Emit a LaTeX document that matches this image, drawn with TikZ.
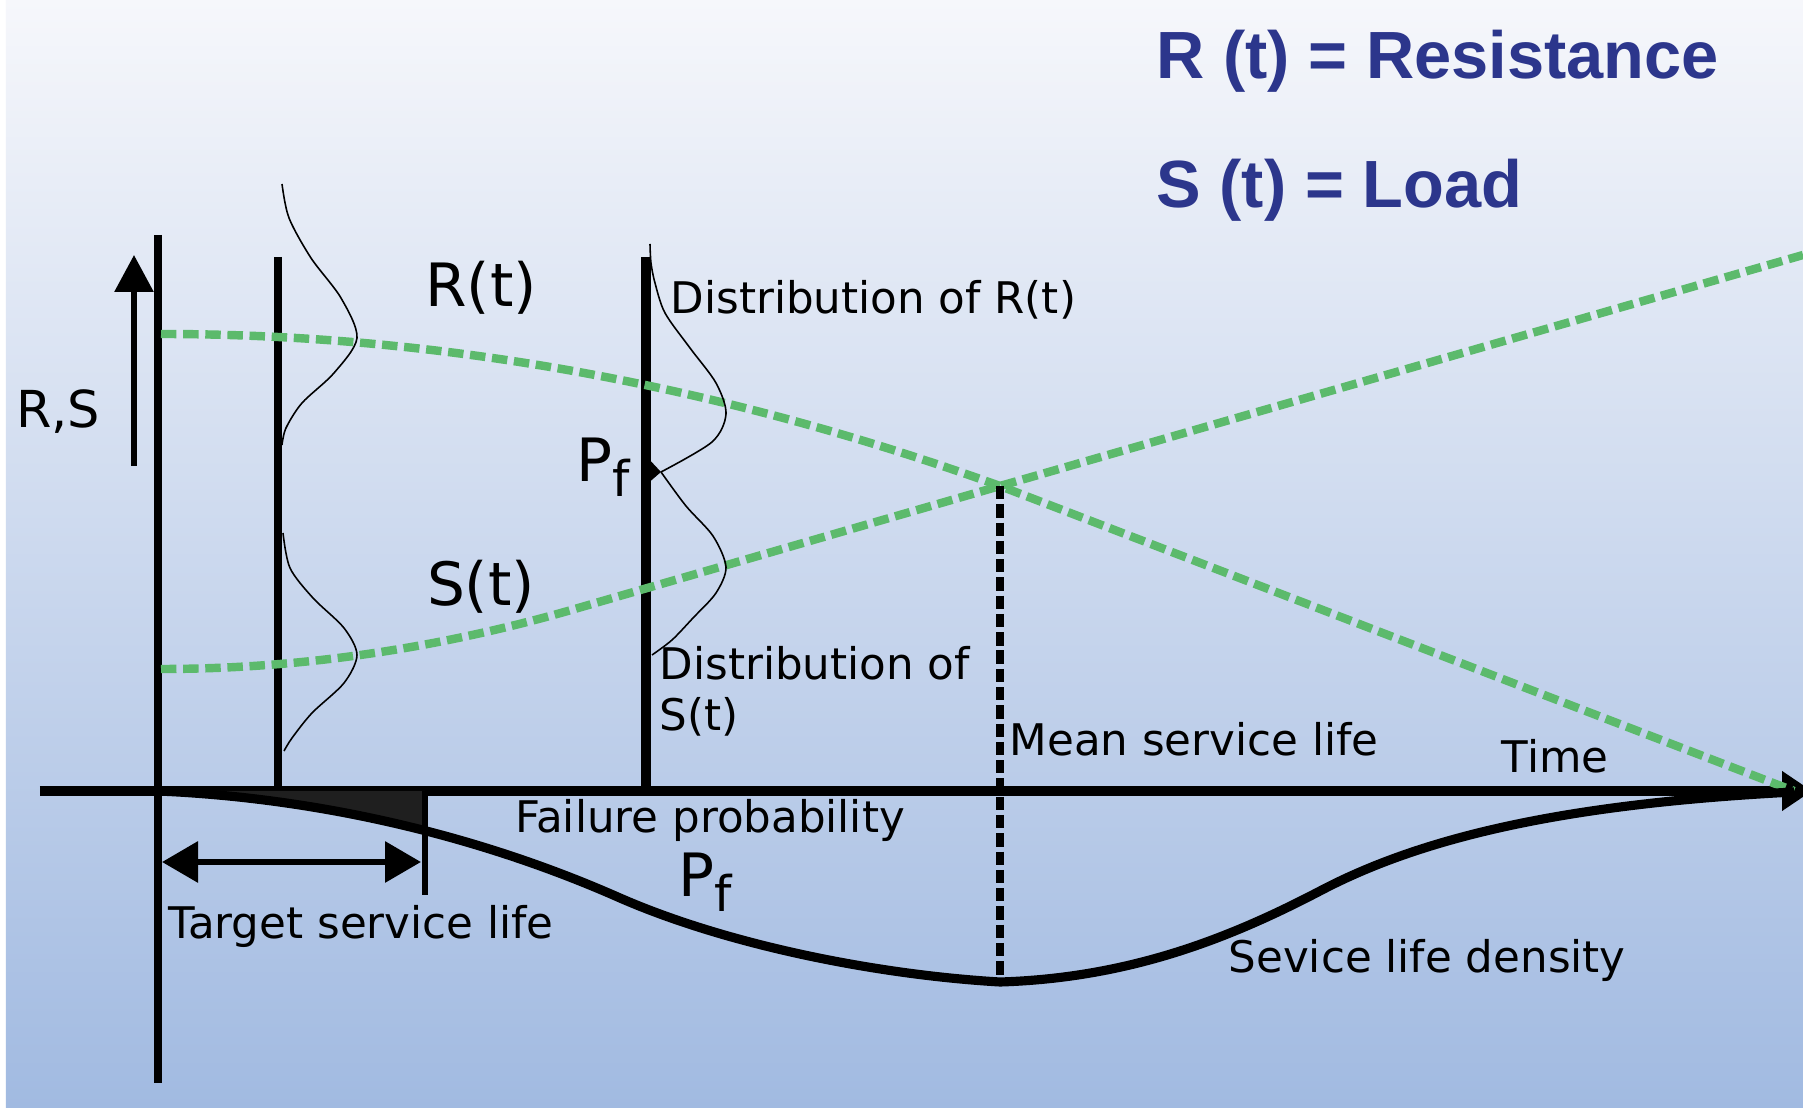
\documentclass[tikz,border=0pt]{standalone}
\usepackage{fontspec}
\usepackage{graphicx}
\setmainfont{DejaVu Sans}
\newfontfamily\headfont{Liberation Sans}
\usetikzlibrary{arrows.meta}
\definecolor{trendgreen}{RGB}{92,186,108}
\definecolor{headblue}{RGB}{44,54,140}
\definecolor{bgtop}{RGB}{246,247,251}
\definecolor{bgmid}{RGB}{210,221,241}
\definecolor{bgbot}{RGB}{161,186,225}
\newcommand{\Pfail}{P\raisebox{-0.45ex}{\fontsize{14}{14}\selectfont f}}

\begin{document}
\begin{tikzpicture}[
    lbl/.style={inner sep=0pt, font=\fontsize{12.4}{14.5}\selectfont},
    big/.style={inner sep=0pt, font=\fontsize{17}{20}\selectfont},
    head/.style={inner sep=0pt, anchor=west, text=headblue,
        font=\headfont\bfseries\fontsize{19}{22}\selectfont},
    trend/.style={trendgreen, line width=2.4pt, dash pattern=on 4.4pt off 1.9pt},
    distr/.style={black, line width=0.45pt},
    post/.style={line width=2pt}
]
    \useasboundingbox (0,0) rectangle (18.03,11.08);
    \fill[white] (0,0) rectangle (18.03,11.08);
    \shade[top color=bgtop, middle color=bgmid, bottom color=bgbot] (0.06,0) rectangle (18.03,11.08);

    % key points
    \coordinate (axisL) at (0.40,3.17);
    \coordinate (axisR) at (18.12,3.17);
    \coordinate (O) at (1.58,3.17);
    \coordinate (cross) at (10.00,6.22);
    \coordinate (dmin) at (10.00,1.26);
    \coordinate (target) at (4.25,3.17);
    \coordinate (bend) at (6.20,2.10);

    % axes and posts
    \draw[line width=2.6pt, -{Triangle[length=3mm,width=3.8mm]}] (axisL) -- (axisR);
    \draw[post] (1.58,8.73) -- (1.58,0.25);
    \draw[post] (2.78,8.51) -- (2.78,3.17);
    \draw[line width=3pt] (6.46,8.51) -- (6.46,3.17);
    \draw[line width=1.7pt, -{Triangle[length=3.7mm,width=3.8mm]}] (1.34,6.42) -- (1.34,8.53);

    % R(t) and S(t) trends
    \draw[trend] (1.61,7.74) .. controls (4.39,7.74) and (7.19,7.23) .. (cross) -- (17.94,3.17);
    \draw[trend] (1.61,4.39) .. controls (2.98,4.39) and (4.36,4.59) .. (5.73,4.985) -- (cross) -- (18.03,8.53);

    % distributions
    \draw[distr] plot[smooth] coordinates {(2.82,9.24) (2.89,8.9) (3.11,8.5) (3.41,8.1) (3.57,7.70) (3.34,7.35) (3.02,7.05) (2.86,6.8) (2.82,6.63)};
    \draw[distr] plot[smooth] coordinates {(2.83,5.75) (2.90,5.4) (3.13,5.1) (3.44,4.8) (3.57,4.53) (3.44,4.25) (3.12,3.95) (2.92,3.7) (2.84,3.57)};
    \draw[distr] plot[smooth] coordinates {(6.50,8.64) (6.51,8.45) (6.55,8.25) (6.65,7.95) (6.90,7.6) (7.16,7.25) (7.26,6.94) (7.12,6.66) (6.61,6.36)};
    \draw[distr] plot[smooth] coordinates {(6.61,6.36) (6.86,6.02) (7.13,5.72) (7.26,5.41) (7.16,5.15) (6.93,4.9) (6.72,4.68) (6.52,4.53)};
    \fill (6.46,6.52) -- (6.61,6.36) -- (6.46,6.23) -- cycle;

    % mean service life
    \draw[line width=2.2pt, dash pattern=on 3.8pt off 1.4pt] (cross) -- (dmin);

    % service life density
    \begin{scope}
        \clip (O) rectangle (4.25,2.0);
        \fill[black!88] (O) .. controls (3.2,3.10) and (4.8,2.72) .. (bend) -- (6.20,3.17) -- cycle;
    \end{scope}
    \draw[line width=2.6pt] (O) .. controls (3.2,3.10) and (4.8,2.72) .. (bend)
        .. controls (7.3,1.62) and (8.8,1.33) .. (dmin)
        .. controls (11.3,1.30) and (12.3,1.70) .. (13.2,2.17)
        .. controls (14.3,2.75) and (15.8,3.05) .. (17.94,3.16);

    % target service life
    \draw[line width=1.6pt] (target) -- (4.25,2.13);
    \draw[line width=1.8pt, {Triangle[length=3.6mm,width=4mm]}-{Triangle[length=3.6mm,width=4mm]}] (1.62,2.46) -- (4.21,2.46);

    % labels
    \node[inner sep=0pt, font=\fontsize{14.5}{16}\selectfont] (RS) at (0.58,6.96) {R,S};
    \node[big] (Rt) at (4.81,8.20) {R(t)};
    \node[big] (St) at (4.81,5.21) {S(t)};
    \node[big] (PfUp) at (6.03,6.41) {\Pfail};
    \node[big] (PfLow) at (7.05,2.26) {\Pfail};
    \node[lbl, anchor=west] (distR) at (6.70,8.08) {Distribution of R(t)};
    \node[lbl, anchor=west, align=left] (distS) at (6.59,4.17) {Distribution of\\S(t)};
    \node[lbl, anchor=west] (mean) at (10.09,3.69) {Mean service life};
    \node[lbl] (time) at (15.55,3.52) {Time};
    \node[lbl] (failprob) at (7.10,2.88) {Failure probability};
    \node[lbl, anchor=west] (targetlbl) at (1.68,1.82) {Target service life};
    \node[lbl, anchor=west] (density) at (12.28,1.48) {Sevice life density};

    \node[head] (resist) at (11.56,10.47) {R (t) = Resistance};
    \node[head] (load) at (11.56,9.18) {S (t) = Load};
\end{tikzpicture}
\end{document}
